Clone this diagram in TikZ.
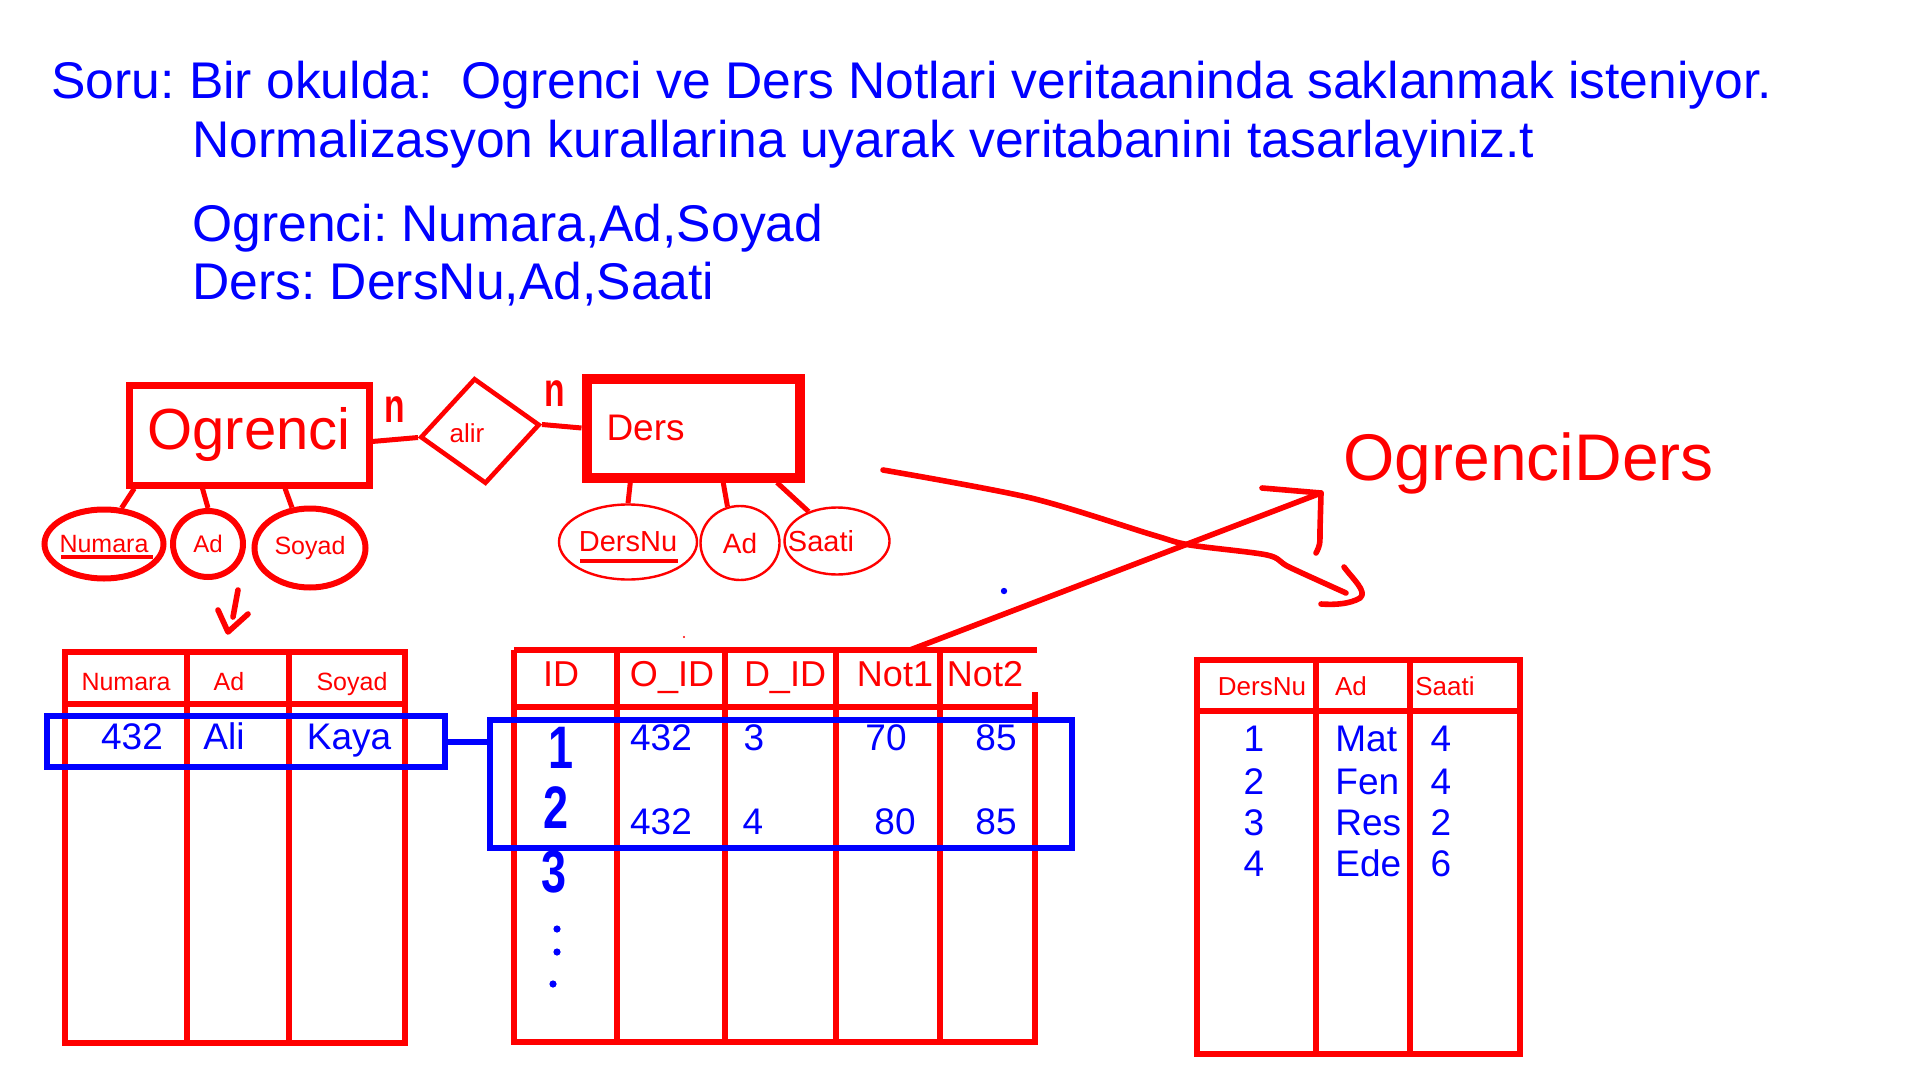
\documentclass[tikz,border=0pt]{standalone}
\usepackage{fontspec}
\setmainfont{Liberation Sans}
\usetikzlibrary{shapes.geometric}
\definecolor{Kirmizi}{rgb}{1, 0, 0}
\definecolor{Mavi}{rgb}{0, 0, 1}
\frenchspacing

\begin{document}
\begin{tikzpicture}[
    x=0.5pt, y=-0.5pt,
    baslik/.style={text=Mavi, anchor=base west, inner sep=0pt,
        font=\fontsize{25.8}{30}\selectfont},
    varlik/.style={draw=Kirmizi, rectangle, inner sep=0pt, text=Kirmizi},
    ozellik/.style={draw=Kirmizi, ellipse, inner ysep=0pt, inner xsep=-4pt,
        text=Kirmizi},
    bag/.style={draw=Kirmizi, line width=2.5pt},
    tablo/.style={draw=Kirmizi, line width=3.2pt},
    hucre/.style={text=Kirmizi, anchor=base, inner sep=0pt},
    deger/.style={text=Mavi, anchor=base, inner sep=0pt,
        font=\fontsize{18.5}{20}\selectfont},
    satir/.style={draw=Mavi, line width=3pt, rectangle, inner sep=0pt},
    elyazisi/.style={draw=Kirmizi, line width=2.8pt, line cap=round,
        line join=round},
    elrakam/.style={text=Mavi, anchor=base, inner sep=0pt, xscale=0.75,
        font=\bfseries\fontsize{30}{30}\selectfont},
]

% Sayfanin sinirlari
\useasboundingbox (0,0) rectangle (1920,1080);

% Soru metni
\node[baslik] (soru1) at (51,99)
    {Soru: Bir okulda:\ \ Ogrenci ve Ders Notlari veritaaninda saklanmak isteniyor.};
\node[baslik] (soru2) at (192,158)
    {Normalizasyon kurallarina uyarak veritabanini tasarlayiniz.t};
\node[baslik] (ogrtanim) at (192,242) {Ogrenci: Numara,Ad,Soyad};
\node[baslik] (derstanim) at (192,300) {Ders: DersNu,Ad,Saati};

% Varliklar ve iliski
\node[varlik, line width=3.5pt, minimum width=120pt, minimum height=50pt,
    font=\fontsize{29}{30}\selectfont] (ogr) at (249,435) {Ogrenci};
\node[varlik, line width=5pt, minimum width=106.5pt, minimum height=49.5pt,
    inner xsep=10pt, text width=86.5pt, align=left,
    font=\fontsize{18.5}{20}\selectfont] (ders) at (693,428) {Ders};
\node[draw=Kirmizi, diamond, line width=2.3pt, minimum width=60pt,
    minimum height=53pt, inner sep=0pt, rotate=6] (alir) at (480,431) {};
\node[text=Kirmizi, font=\fontsize{13}{14}\selectfont] (alirmetin) at (467,433) {alir};

\draw[bag] (ogr.-3) -- (alir.west);
\draw[bag] (alir.east) -- (ders.west);

% Cokluk isaretleri
\node[text=Kirmizi, inner sep=0pt, xscale=0.7,
    font=\bfseries\fontsize{24}{24}\selectfont] (n1) at (395,410) {n};
\node[text=Kirmizi, inner sep=0pt, xscale=0.7,
    font=\bfseries\fontsize{24}{24}\selectfont] (n2) at (555,394) {n};

% Ogrenci ozellikleri
\node[ozellik, line width=3pt, minimum width=59.5pt, minimum height=34.5pt,
    font=\fontsize{12.5}{13}\selectfont] (numara) at (104,544) {Numara};
\node[ozellik, line width=3pt, minimum width=35pt, minimum height=33pt,
    font=\fontsize{12}{13}\selectfont] (ad1) at (208,544) {Ad};
\node[ozellik, line width=3pt, minimum width=55.5pt, minimum height=39.5pt,
    font=\fontsize{12.5}{13}\selectfont] (soyad) at (310,548) {Soyad};

\draw[bag] (ogr.205) -- (numara.64);
\draw[bag] (ogr.229) -- (ad1.north);
\draw[bag] (ogr.304) -- (soyad.114);
\draw[draw=Kirmizi, line width=2pt] (numara.center) ++(-43,13) -- ++(92,0);

% Ders ozellikleri
\node[ozellik, line width=1.2pt, minimum width=69pt, minimum height=37.5pt,
    font=\fontsize{14.5}{15}\selectfont] (dersnu) at (628,542) {DersNu};
\node[ozellik, line width=1.2pt, minimum width=39.5pt, minimum height=37pt,
    font=\fontsize{14}{15}\selectfont] (ad2) at (740,543) {Ad};
\node[ozellik, line width=1.2pt, minimum width=52.5pt, minimum height=33.5pt,
    font=\fontsize{14.5}{15}\selectfont] (saati) at (837,541) {\hspace*{-16pt}Saati};

\draw[bag] (ders.221) -- (dersnu.north);
\draw[bag] (ders.299) -- (ad2.109);
\draw[bag] (ders.327) -- (saati.134);
\draw[draw=Kirmizi, line width=2pt] (dersnu.center) ++(-48,19) -- ++(98,0);

% Ad ozelliginden tabloya inen ok
\coordinate (okbas) at (238,590);
\coordinate (okuc) at (228,632);
\draw[elyazisi] (okbas) -- ++(-5,27);
\draw[elyazisi] (okuc) ++(-10,-22) -- (okuc) -- ++(20,-18);

% Ogrenci tablosu
\draw[tablo] (65,652) rectangle (405,1043);
\draw[tablo] (65,704) -- (405,704);
\foreach \x in {187,289}
    \draw[tablo] (\x,652) -- (\x,1043);
\foreach \x/\txt [count=\i] in {126/Numara, 229/Ad, 352/Soyad}
    \node[hucre, font=\fontsize{12.5}{13}\selectfont] (ob\i) at (\x,690) {\txt};
\foreach \x/\txt [count=\i] in {132/432, 224/Ali, 349/Kaya}
    \node[deger] (od\i) at (\x,749) {\txt};

% OgrenciDers tablosu
\draw[tablo] (514,650) -- (1037,650);
\draw[tablo] (514,650) -- (514,1042) -- (1035,1042) -- (1035,692);
\draw[tablo] (514,707) -- (1035,707);
\foreach \x in {617,725,836,940}
    \draw[tablo] (\x,650) -- (\x,1042);
\foreach \x/\txt [count=\i] in {561/ID, 672/O\_ID, 785/D\_ID, 895/Not1, 985/Not2}
    \node[hucre, font=\fontsize{18}{20}\selectfont] (nb\i) at (\x,686) {\txt};
\foreach \x/\txt [count=\i] in {661/432, 754/3, 886/70, 996/85}
    \node[deger] (ns\i) at (\x,750) {\txt};
\foreach \x/\txt [count=\i] in {661/432, 753/4, 895/80, 996/85}
    \node[deger] (nt\i) at (\x,834) {\txt};

% Elle yazilmis sira numaralari
\node[elrakam] (sira1) at (561,768) {1};
\node[elrakam] (sira2) at (556,828) {2};
\node[elrakam] (sira3) at (554,892) {3};
\foreach \p in {(557,929), (557,952), (553,984)}
    \fill[Mavi] \p circle (1.8pt);

% Ders tablosu
\draw[tablo] (1197,660) rectangle (1520,1054);
\draw[tablo] (1197,711) -- (1520,711);
\foreach \x in {1316,1410}
    \draw[tablo] (\x,660) -- (\x,1054);
\foreach \x/\txt [count=\i] in {1262/DersNu, 1351/Ad, 1445/Saati}
    \node[hucre, font=\fontsize{13}{14}\selectfont] (db\i) at (\x,695) {\txt};
\foreach \y/\dno/\dad/\dsa [count=\i] in {751/1/Mat/4, 794/2/Fen/4, 835/3/Res/2, 876/4/Ede/6}{
    \node[deger] (dn\i) at (1254,\y) {\dno};
    \node[deger, anchor=base west] (da\i) at (1335,\y) {\dad};
    \node[deger] (ds\i) at (1441,\y) {\dsa};
}

% Secili satirlar ve baglantisi
\node[satir, minimum width=199pt, minimum height=25.5pt] (kutu1) at (246,741.5) {};
\node[satir, minimum width=291pt, minimum height=64pt] (kutu2) at (781,784) {};
\draw[draw=Mavi, line width=3pt] (kutu1.east) -- (kutu1.east -| kutu2.west);

% Yeni tablo etiketi ve capraz oklar
\node[text=Kirmizi, anchor=base west, inner sep=0pt,
    font=\fontsize{33}{36}\selectfont] (etiket) at (1343,480) {OgrenciDers};

\coordinate (c1bas) at (883,470);
\coordinate (c1uc) at (1346,593);
\draw[elyazisi] plot[smooth, tension=0.5] coordinates
    {(c1bas) (1031,498) (1153,535) (1190,545) (1267,555) (1289,567) (c1uc)};
\draw[elyazisi] (1344,567) .. controls (1352,578) and (1368,592) .. (1360,598)
    .. controls (1350,604) and (1335,605) .. (1321,604);

\coordinate (c2bas) at (910,650);
\coordinate (c2uc) at (1321,493);
\draw[elyazisi] (c2bas) -- (c2uc);
\draw[elyazisi] (1262,488) -- (c2uc) -- (1320,530) .. controls (1320,545) .. (1316,553);

% Kucuk noktalar
\fill[Mavi] (1004,591) circle (1.6pt);
\fill[Kirmizi] (684,637) circle (0.6pt);

\end{tikzpicture}
\end{document}
